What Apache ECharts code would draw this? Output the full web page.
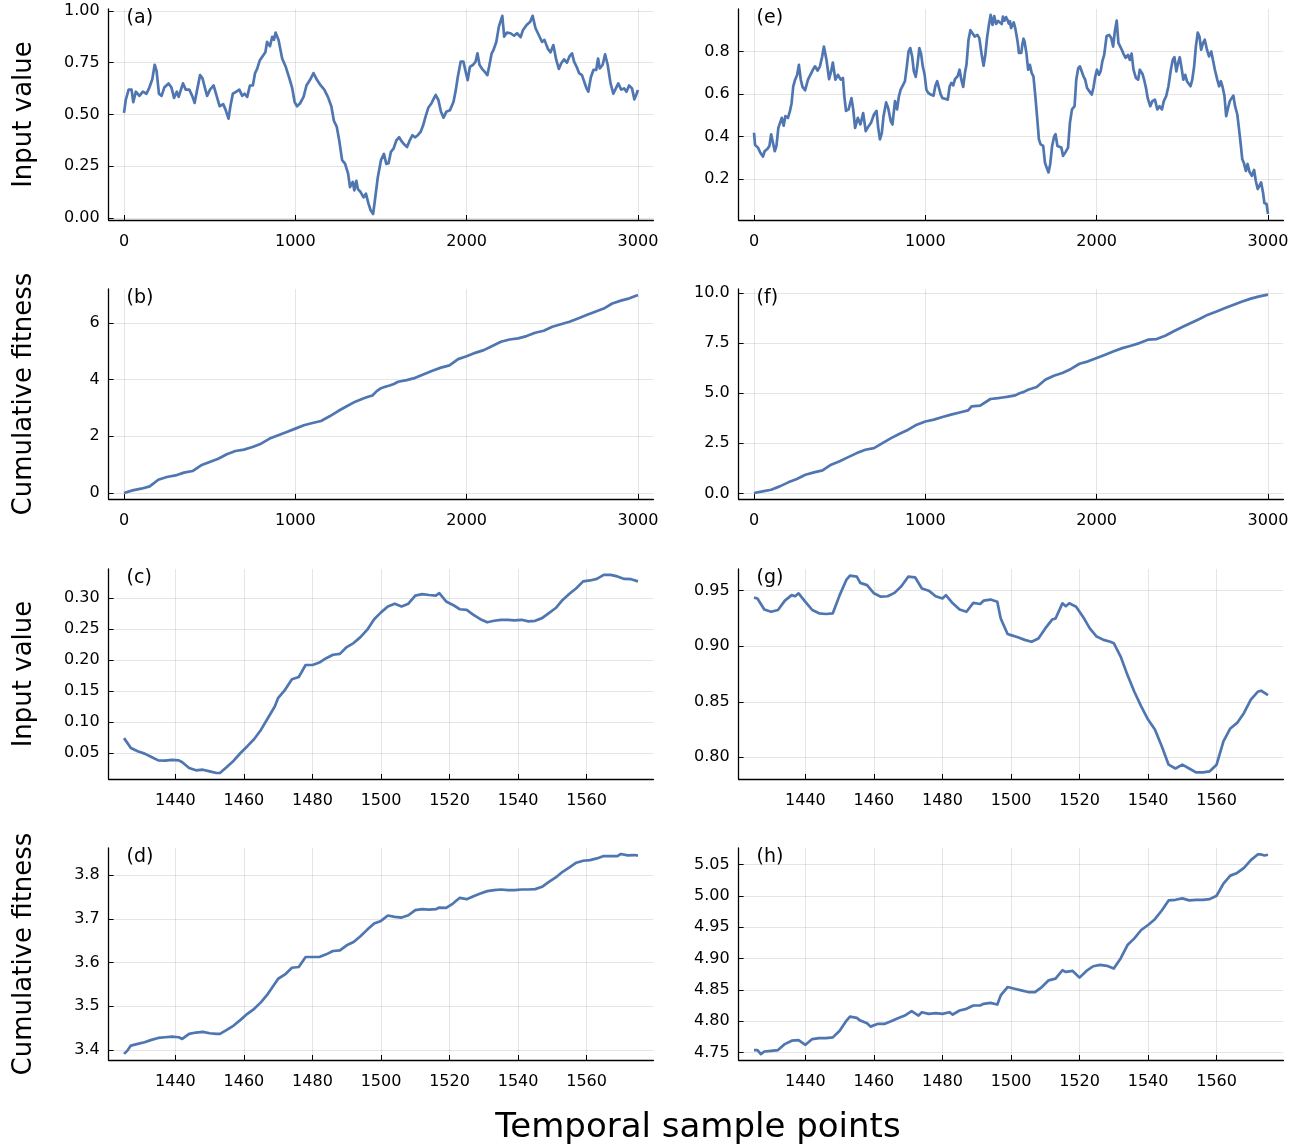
<!DOCTYPE html>
<html><head><meta charset="utf-8">
<script src="https://cdn.jsdelivr.net/npm/echarts@6/dist/echarts.min.js"></script>
<style>html,body{margin:0;padding:0;background:#fff}#c{width:1306px;height:1148px}</style>
</head><body><div id="c"></div>
<script>
// ---------- DATA ----------
const panelA = [[0,0.508],[10,0.57],[27,0.62],[44,0.62],[54,0.56],[69,0.61],[90,0.59],[110,0.61],[131,0.60],[148,0.63],[165,0.67],[179,0.74],[190,0.71],[204,0.60],[219,0.59],[235,0.63],[260,0.65],[277,0.63],[292,0.58],[308,0.61],[319,0.585],[344,0.65],[360,0.62],[381,0.62],[398,0.59],[412,0.556],[427,0.62],[444,0.69],[458,0.675],[475,0.62],[485,0.59],[502,0.62],[523,0.64],[537,0.60],[558,0.54],[579,0.55],[594,0.52],[610,0.48],[621,0.54],[635,0.60],[656,0.61],[673,0.62],[690,0.59],[704,0.60],[719,0.585],[735,0.64],[752,0.64],[765,0.70],[777,0.72],[792,0.76],[808,0.78],[825,0.80],[835,0.85],[852,0.83],[865,0.875],[875,0.86],[885,0.895],[902,0.86],[923,0.77],[944,0.73],[965,0.675],[981,0.63],[996,0.56],[1010,0.54],[1027,0.553],[1048,0.585],[1065,0.64],[1085,0.666],[1106,0.70],[1127,0.666],[1148,0.64],[1169,0.62],[1190,0.585],[1210,0.54],[1225,0.47],[1242,0.44],[1256,0.376],[1273,0.28],[1290,0.263],[1308,0.215],[1319,0.15],[1335,0.175],[1344,0.134],[1356,0.18],[1365,0.14],[1381,0.126],[1398,0.10],[1412,0.118],[1427,0.07],[1440,0.037],[1454,0.02],[1465,0.09],[1481,0.195],[1500,0.28],[1517,0.31],[1531,0.262],[1544,0.265],[1558,0.32],[1573,0.335],[1590,0.376],[1606,0.39],[1621,0.37],[1635,0.356],[1652,0.343],[1665,0.37],[1683,0.40],[1698,0.39],[1715,0.40],[1731,0.416],[1746,0.448],[1760,0.49],[1777,0.534],[1794,0.553],[1808,0.577],[1819,0.594],[1835,0.57],[1850,0.513],[1865,0.485],[1881,0.513],[1902,0.52],[1923,0.56],[1937,0.62],[1948,0.68],[1965,0.755],[1981,0.755],[1996,0.70],[2006,0.666],[2019,0.73],[2038,0.74],[2052,0.755],[2063,0.795],[2075,0.74],[2090,0.72],[2106,0.706],[2121,0.69],[2131,0.73],[2146,0.795],[2156,0.81],[2173,0.85],[2188,0.924],[2198,0.93],[2208,0.976],[2219,0.876],[2235,0.895],[2256,0.892],[2277,0.88],[2294,0.892],[2315,0.873],[2329,0.908],[2350,0.932],[2371,0.948],[2385,0.976],[2402,0.916],[2423,0.88],[2440,0.85],[2454,0.86],[2475,0.815],[2490,0.80],[2506,0.835],[2523,0.763],[2538,0.72],[2552,0.747],[2569,0.766],[2585,0.75],[2600,0.78],[2615,0.795],[2627,0.755],[2642,0.73],[2656,0.70],[2673,0.69],[2683,0.666],[2698,0.63],[2710,0.61],[2725,0.68],[2740,0.715],[2756,0.715],[2767,0.77],[2777,0.722],[2794,0.74],[2808,0.79],[2823,0.74],[2840,0.65],[2856,0.60],[2871,0.626],[2885,0.65],[2902,0.62],[2919,0.626],[2933,0.61],[2948,0.64],[2965,0.626],[2979,0.573],[2992,0.60],[3000,0.618]];

const panelE = [[0,0.417],[6,0.36],[23,0.347],[37,0.323],[52,0.305],[62,0.33],[79,0.342],[90,0.355],[100,0.41],[110,0.414],[121,0.33],[131,0.355],[142,0.44],[152,0.448],[162,0.487],[173,0.45],[183,0.495],[198,0.487],[210,0.52],[219,0.555],[229,0.636],[240,0.667],[252,0.69],[262,0.737],[273,0.667],[283,0.633],[298,0.617],[315,0.667],[329,0.69],[344,0.714],[356,0.73],[371,0.71],[385,0.73],[398,0.777],[408,0.823],[423,0.76],[438,0.67],[450,0.706],[460,0.748],[475,0.667],[490,0.69],[506,0.667],[519,0.675],[527,0.59],[537,0.52],[552,0.527],[569,0.58],[579,0.527],[590,0.44],[606,0.487],[621,0.456],[637,0.51],[652,0.425],[669,0.448],[683,0.464],[700,0.503],[715,0.52],[725,0.44],[735,0.386],[746,0.417],[756,0.495],[771,0.56],[783,0.534],[798,0.472],[808,0.456],[823,0.566],[835,0.527],[846,0.59],[856,0.62],[871,0.644],[881,0.66],[892,0.73],[902,0.80],[912,0.816],[923,0.777],[933,0.706],[944,0.68],[954,0.737],[965,0.816],[975,0.79],[985,0.73],[996,0.69],[1006,0.62],[1017,0.605],[1031,0.597],[1048,0.592],[1058,0.636],[1069,0.66],[1079,0.652],[1090,0.597],[1100,0.58],[1115,0.577],[1131,0.573],[1142,0.636],[1152,0.652],[1163,0.64],[1173,0.67],[1188,0.683],[1200,0.714],[1210,0.667],[1221,0.633],[1231,0.698],[1240,0.737],[1252,0.855],[1263,0.90],[1273,0.895],[1288,0.87],[1304,0.878],[1315,0.863],[1329,0.784],[1340,0.733],[1350,0.784],[1360,0.863],[1371,0.925],[1381,0.972],[1392,0.925],[1402,0.967],[1413,0.93],[1425,0.944],[1436,0.946],[1446,0.929],[1453,0.964],[1462,0.945],[1471,0.962],[1481,0.946],[1487,0.931],[1494,0.942],[1500,0.910],[1506,0.904],[1516,0.937],[1525,0.909],[1530,0.903],[1536,0.859],[1542,0.825],[1546,0.793],[1554,0.787],[1560,0.793],[1566,0.831],[1573,0.860],[1579,0.847],[1590,0.792],[1600,0.714],[1610,0.737],[1621,0.698],[1631,0.683],[1642,0.59],[1652,0.495],[1663,0.386],[1673,0.362],[1688,0.355],[1698,0.277],[1708,0.253],[1719,0.23],[1729,0.27],[1740,0.355],[1752,0.40],[1760,0.41],[1771,0.355],[1781,0.355],[1794,0.347],[1804,0.308],[1819,0.327],[1833,0.347],[1844,0.464],[1856,0.527],[1871,0.542],[1881,0.667],[1892,0.72],[1902,0.73],[1913,0.706],[1923,0.683],[1933,0.667],[1944,0.628],[1958,0.612],[1971,0.597],[1981,0.628],[1992,0.683],[2002,0.714],[2013,0.69],[2023,0.706],[2033,0.753],[2044,0.784],[2058,0.873],[2073,0.878],[2085,0.863],[2096,0.823],[2106,0.894],[2117,0.945],[2127,0.84],[2142,0.816],[2156,0.79],[2169,0.77],[2183,0.784],[2194,0.76],[2204,0.79],[2215,0.714],[2229,0.675],[2242,0.667],[2252,0.714],[2267,0.695],[2277,0.667],[2288,0.628],[2298,0.58],[2313,0.542],[2325,0.566],[2340,0.573],[2354,0.527],[2367,0.542],[2381,0.527],[2392,0.566],[2406,0.59],[2419,0.636],[2433,0.714],[2444,0.76],[2454,0.773],[2465,0.706],[2475,0.745],[2485,0.773],[2496,0.72],[2506,0.667],[2517,0.69],[2527,0.66],[2538,0.667],[2548,0.636],[2558,0.667],[2569,0.73],[2579,0.823],[2590,0.889],[2600,0.87],[2610,0.808],[2621,0.84],[2631,0.855],[2644,0.808],[2656,0.777],[2669,0.80],[2677,0.808],[2690,0.714],[2704,0.667],[2715,0.636],[2725,0.66],[2735,0.633],[2746,0.59],[2756,0.495],[2767,0.534],[2777,0.566],[2788,0.573],[2798,0.592],[2808,0.542],[2821,0.503],[2829,0.448],[2840,0.37],[2850,0.292],[2860,0.273],[2871,0.237],[2881,0.27],[2892,0.233],[2906,0.214],[2919,0.242],[2929,0.19],[2940,0.152],[2950,0.16],[2960,0.183],[2971,0.136],[2979,0.086],[2992,0.081],[3000,0.034]];

const panelB = [[0,0],[50,0.094],[100,0.153],[150,0.235],[200,0.47],[250,0.565],[300,0.62],[350,0.72],[400,0.776],[450,0.976],[500,1.094],[550,1.21],[600,1.365],[650,1.48],[700,1.53],[750,1.62],[800,1.74],[850,1.92],[900,2.035],[950,2.15],[1000,2.27],[1050,2.39],[1100,2.47],[1150,2.54],[1200,2.705],[1250,2.89],[1300,3.06],[1350,3.22],[1400,3.34],[1425,3.39],[1450,3.44],[1475,3.59],[1500,3.695],[1525,3.745],[1550,3.79],[1575,3.845],[1600,3.92],[1650,3.98],[1700,4.06],[1750,4.19],[1800,4.31],[1850,4.42],[1900,4.50],[1950,4.72],[2000,4.82],[2050,4.94],[2100,5.035],[2150,5.18],[2200,5.33],[2250,5.41],[2300,5.45],[2350,5.53],[2400,5.65],[2450,5.72],[2500,5.86],[2550,5.95],[2600,6.035],[2650,6.15],[2700,6.27],[2750,6.39],[2800,6.5],[2850,6.68],[2900,6.78],[2950,6.86],[3000,6.98]];

const panelF = [[0,0.02],[50,0.1],[100,0.18],[150,0.35],[200,0.55],[250,0.72],[300,0.93],[350,1.05],[400,1.15],[450,1.43],[500,1.6],[550,1.81],[600,2.01],[650,2.18],[700,2.26],[750,2.51],[800,2.76],[850,2.98],[900,3.18],[950,3.43],[1000,3.59],[1050,3.68],[1100,3.81],[1150,3.93],[1200,4.04],[1250,4.14],[1270,4.34],[1320,4.38],[1380,4.71],[1425,4.754],[1450,4.785],[1475,4.814],[1500,4.85],[1525,4.89],[1550,4.996],[1575,5.066],[1600,5.17],[1650,5.31],[1700,5.67],[1750,5.87],[1800,6.01],[1850,6.21],[1900,6.47],[1950,6.59],[2000,6.76],[2050,6.92],[2100,7.09],[2150,7.25],[2200,7.37],[2250,7.5],[2300,7.67],[2350,7.7],[2400,7.87],[2450,8.09],[2500,8.3],[2550,8.5],[2600,8.7],[2650,8.92],[2700,9.08],[2750,9.25],[2800,9.42],[2850,9.58],[2900,9.72],[2950,9.83],[3000,9.92]];

const panelC = [[1425,0.074],[1427,0.058],[1429,0.0527],[1431,0.049],[1433,0.0435],[1435,0.038],[1437,0.0376],[1439,0.039],[1441,0.038],[1442,0.035],[1444,0.0258],[1446,0.022],[1448,0.023],[1450,0.0204],[1452,0.0177],[1453,0.0177],[1455,0.0274],[1457,0.0376],[1459,0.05],[1461,0.061],[1463,0.0726],[1465,0.0876],[1467,0.1065],[1469,0.125],[1470,0.139],[1472,0.152],[1474,0.169],[1476,0.1726],[1478,0.192],[1480,0.192],[1482,0.196],[1484,0.203],[1486,0.2086],[1488,0.210],[1490,0.221],[1492,0.2274],[1494,0.237],[1496,0.249],[1498,0.266],[1500,0.277],[1502,0.2866],[1504,0.291],[1506,0.2866],[1508,0.291],[1510,0.304],[1512,0.3065],[1514,0.305],[1516,0.304],[1517,0.308],[1519,0.2946],[1521,0.289],[1523,0.282],[1525,0.281],[1527,0.273],[1529,0.266],[1531,0.261],[1533,0.2634],[1535,0.265],[1537,0.265],[1539,0.264],[1541,0.265],[1543,0.2624],[1545,0.2634],[1547,0.2677],[1549,0.2758],[1551,0.284],[1553,0.297],[1555,0.307],[1557,0.316],[1559,0.327],[1561,0.3285],[1563,0.331],[1565,0.3376],[1567,0.3376],[1569,0.335],[1571,0.331],[1573,0.3306],[1575,0.327]];

const panelG = [[1425,0.9437],[1426,0.943],[1428,0.933],[1430,0.931],[1432,0.9326],[1434,0.941],[1436,0.946],[1437,0.945],[1438,0.9476],[1440,0.940],[1442,0.9326],[1444,0.9296],[1446,0.929],[1448,0.9296],[1450,0.946],[1452,0.960],[1453,0.9635],[1455,0.9626],[1456,0.957],[1458,0.955],[1460,0.9476],[1462,0.9446],[1464,0.945],[1466,0.948],[1468,0.954],[1470,0.9626],[1472,0.962],[1474,0.952],[1476,0.950],[1478,0.945],[1480,0.943],[1481,0.946],[1483,0.9386],[1485,0.933],[1487,0.931],[1489,0.939],[1491,0.938],[1492,0.941],[1494,0.942],[1496,0.940],[1497,0.925],[1499,0.911],[1500,0.910],[1502,0.908],[1504,0.9057],[1506,0.904],[1508,0.907],[1510,0.916],[1512,0.924],[1513,0.925],[1515,0.9386],[1516,0.936],[1517,0.9386],[1519,0.9356],[1521,0.9266],[1523,0.916],[1525,0.9087],[1527,0.9057],[1529,0.904],[1530,0.9027],[1532,0.8907],[1534,0.874],[1536,0.859],[1538,0.8458],[1540,0.834],[1542,0.825],[1544,0.810],[1546,0.7934],[1548,0.790],[1550,0.7934],[1552,0.790],[1554,0.7865],[1556,0.7865],[1558,0.7874],[1560,0.7934],[1562,0.8144],[1564,0.826],[1566,0.831],[1568,0.840],[1570,0.852],[1572,0.859],[1573,0.860],[1575,0.856]];

const panelD = [[1425,3.391],[1426,3.3985],[1427,3.410],[1429,3.4138],[1431,3.4176],[1433,3.423],[1435,3.4275],[1437,3.429],[1439,3.4306],[1441,3.429],[1442,3.4252],[1444,3.4367],[1446,3.4398],[1448,3.4413],[1450,3.4382],[1452,3.4367],[1453,3.4367],[1455,3.4459],[1457,3.4558],[1459,3.4688],[1461,3.4826],[1463,3.4941],[1465,3.5094],[1467,3.5285],[1469,3.5514],[1470,3.5629],[1472,3.5728],[1474,3.5881],[1476,3.5897],[1478,3.6126],[1480,3.6126],[1482,3.6126],[1484,3.6187],[1486,3.6264],[1488,3.6279],[1490,3.6394],[1492,3.647],[1494,3.66],[1496,3.6753],[1498,3.6891],[1500,3.6952],[1502,3.7075],[1504,3.7044],[1506,3.7029],[1508,3.7082],[1510,3.7197],[1512,3.722],[1514,3.7212],[1516,3.722],[1517,3.7258],[1519,3.725],[1521,3.735],[1523,3.748],[1525,3.745],[1527,3.7518],[1529,3.7579],[1531,3.7633],[1533,3.7656],[1535,3.7671],[1537,3.7656],[1539,3.7656],[1541,3.7671],[1543,3.7671],[1545,3.7679],[1547,3.7732],[1549,3.7847],[1551,3.7946],[1553,3.8076],[1555,3.8176],[1557,3.8283],[1559,3.8329],[1561,3.8344],[1563,3.8382],[1565,3.8436],[1567,3.8436],[1569,3.8436],[1570,3.8482],[1572,3.8451],[1574,3.8459],[1575,3.8444]];

const panelH = [[1425,4.7538],[1426,4.7538],[1427,4.7473],[1428,4.7516],[1430,4.7527],[1432,4.7538],[1434,4.7634],[1436,4.7688],[1438,4.7698],[1440,4.7623],[1442,4.7714],[1444,4.773],[1446,4.773],[1448,4.7741],[1450,4.7848],[1452,4.8009],[1453,4.8073],[1455,4.8052],[1456,4.8009],[1458,4.7966],[1459,4.7913],[1461,4.7956],[1463,4.7956],[1465,4.7998],[1467,4.8047],[1469,4.809],[1471,4.8159],[1473,4.809],[1474,4.8143],[1476,4.8116],[1478,4.8127],[1480,4.8116],[1482,4.8143],[1483,4.8106],[1485,4.817],[1487,4.8197],[1489,4.825],[1491,4.825],[1492,4.8277],[1494,4.8293],[1496,4.8266],[1497,4.8411],[1499,4.8545],[1501,4.8518],[1503,4.8491],[1505,4.8465],[1507,4.8465],[1509,4.8545],[1511,4.8652],[1513,4.8679],[1515,4.8813],[1516,4.8786],[1518,4.8802],[1520,4.8695],[1522,4.8802],[1524,4.8877],[1526,4.8899],[1528,4.8883],[1530,4.884],[1532,4.9001],[1534,4.9215],[1536,4.9322],[1538,4.9456],[1540,4.9536],[1542,4.9628],[1544,4.9767],[1546,4.9928],[1548,4.9938],[1550,4.996],[1552,4.9928],[1554,4.9938],[1556,4.9938],[1558,4.9949],[1560,5.0003],[1562,5.0196],[1564,5.0324],[1566,5.0367],[1568,5.0448],[1570,5.0571],[1572,5.0662],[1573,5.0662],[1574,5.0646],[1575,5.0657]];

// tick values
const longXTicks = [0, 1000, 2000, 3000];
const zoomXTicks = [1440, 1460, 1480, 1500, 1520, 1540, 1560];
const aYTicks = [0, 0.25, 0.5, 0.75, 1.0];
const eYTicks = [0.2, 0.4, 0.6, 0.8];
const bYTicks = [0, 2, 4, 6];
const fYTicks = [0, 2.5, 5, 7.5, 10];
const cYTicks = [0.05, 0.10, 0.15, 0.20, 0.25, 0.30];
const gYTicks = [0.80, 0.85, 0.90, 0.95];
const dYTicks = [3.4, 3.5, 3.6, 3.7, 3.8];
const hYTicks = [4.75, 4.80, 4.85, 4.90, 4.95, 5.00, 5.05];

const panelLabels = ['(a)', '(b)', '(c)', '(d)', '(e)', '(f)', '(g)', '(h)'];
const yTitles = ['Input value', 'Cumulative fitness', 'Input value', 'Cumulative fitness'];
const xTitle = 'Temporal sample points';

// ---------- LAYOUT ----------
const FONT = 'DejaVu Sans';
const LINE = '#4f76b1';
const colLeft = [108.6, 738.6];
const colW = 544.8;
const rowTop = [9, 289, 569, 848];
const rowH = [211, 210, 210, 212];
const longX = [-90, 3090];
const zoomX = [1420.5, 1579.5];

const panels = [
  {data: panelA, col: 0, row: 0, xr: longX, xt: longXTicks, yr: [-0.009, 1.009], yt: aYTicks, dec: 2, lab: 0},
  {data: panelB, col: 0, row: 1, xr: longX, xt: longXTicks, yr: [-0.21, 7.19], yt: bYTicks, dec: 0, lab: 1},
  {data: panelC, col: 0, row: 2, xr: zoomX, xt: zoomXTicks, yr: [0.008, 0.347], yt: cYTicks, dec: 2, lab: 2},
  {data: panelD, col: 0, row: 3, xr: zoomX, xt: zoomXTicks, yr: [3.377, 3.862], yt: dYTicks, dec: 1, lab: 3},
  {data: panelE, col: 1, row: 0, xr: longX, xt: longXTicks, yr: [0.006, 1.0], yt: eYTicks, dec: 1, lab: 4},
  {data: panelF, col: 1, row: 1, xr: longX, xt: longXTicks, yr: [-0.28, 10.2], yt: fYTicks, dec: 1, lab: 5},
  {data: panelG, col: 1, row: 2, xr: zoomX, xt: zoomXTicks, yr: [0.7805, 0.9695], yt: gYTicks, dec: 2, lab: 6},
  {data: panelH, col: 1, row: 3, xr: zoomX, xt: zoomXTicks, yr: [4.738, 5.0765], yt: hYTicks, dec: 2, lab: 7}
];

const grids = [], xAxes = [], yAxes = [], series = [], graphics = [];
const axisLineStyle = {color: '#000', width: 1.3};
const gridLineStyle = {color: 'rgba(0,0,0,0.1)', width: 1};
const labelStyle = {color: '#000', fontFamily: FONT, fontSize: 16};

panels.forEach((p, i) => {
  const left = colLeft[p.col], top = rowTop[p.row], h = rowH[p.row];
  grids.push({left: left, top: top, width: colW, height: h, containLabel: false});
  xAxes.push({
    type: 'value', gridIndex: i, min: p.xr[0], max: p.xr[1],
    axisLine: {show: true, onZero: false, lineStyle: axisLineStyle},
    axisTick: {show: true, inside: true, length: 5, lineStyle: {color: '#000', width: 1}, customValues: p.xt},
    axisLabel: Object.assign({margin: 14, customValues: p.xt, formatter: v => String(Math.round(v))}, labelStyle),
    splitLine: {show: true, lineStyle: gridLineStyle}
  });
  yAxes.push({
    type: 'value', gridIndex: i, min: p.yr[0], max: p.yr[1],
    axisLine: {show: true, onZero: false, lineStyle: axisLineStyle},
    axisTick: {show: true, inside: true, length: 5, lineStyle: {color: '#000', width: 1}, customValues: p.yt},
    axisLabel: Object.assign({margin: 9, customValues: p.yt, formatter: v => v.toFixed(p.dec)}, labelStyle),
    splitLine: {show: true, lineStyle: gridLineStyle}
  });
  series.push({
    type: 'line', xAxisIndex: i, yAxisIndex: i, data: p.data,
    showSymbol: false, symbol: 'none', smooth: false, clip: true,
    lineStyle: {color: LINE, width: 2.7, join: 'round'}, animation: false
  });
  graphics.push({
    type: 'text', x: left + 18, y: top + 9,
    style: {text: panelLabels[p.lab], fontFamily: FONT, fontSize: 19, fill: '#000', textAlign: 'left', textVerticalAlign: 'middle'}
  });
});

yTitles.forEach((t, r) => {
  graphics.push({
    type: 'text', x: 24, y: rowTop[r] + rowH[r] / 2, rotation: Math.PI / 2,
    style: {text: t, fontFamily: FONT, fontSize: 26, fill: '#000', textAlign: 'center', textVerticalAlign: 'middle'}
  });
});
graphics.push({
  type: 'text', x: 698, y: 1128,
  style: {text: xTitle, fontFamily: FONT, fontSize: 34, fill: '#000', textAlign: 'center', textVerticalAlign: 'middle'}
});

const chart = echarts.init(document.getElementById('c'), null, {renderer: 'canvas'});
chart.setOption({
  backgroundColor: '#fff',
  animation: false,
  grid: grids, xAxis: xAxes, yAxis: yAxes, series: series, graphic: graphics
});
</script></body></html>
